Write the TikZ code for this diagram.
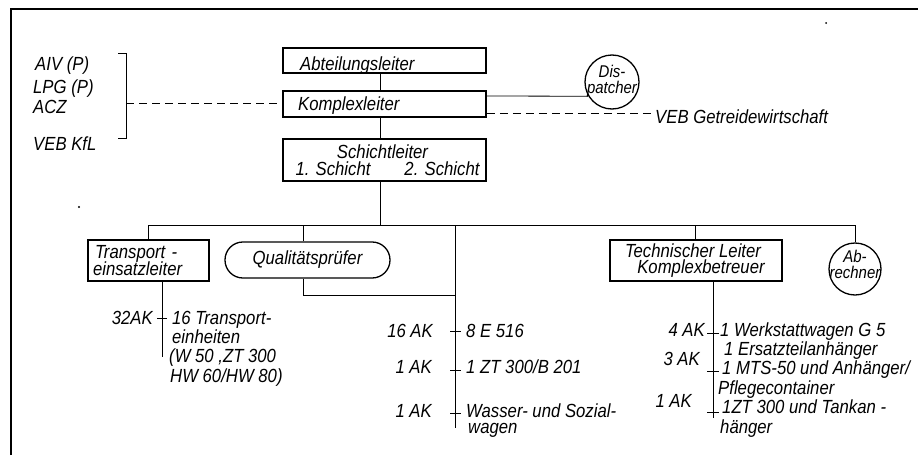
\documentclass[tikz,border=0pt]{standalone}
\usepackage{fontspec}
\newfontfamily\din[FakeStretch=0.88]{Liberation Sans}
\newcommand\tightls{\lineskiplimit=-50pt\relax\lineskip=0pt\relax}
\newcommand\dinmain{\din\itshape\fontsize{19}{17}\selectfont\tightls}
\newcommand\dinsmall{\din\itshape\fontsize{17}{16}\selectfont\tightls}
\newcommand\dinls[1]{\din\itshape\fontsize{19}{#1}\selectfont\tightls}
\usetikzlibrary{calc}
\begin{document}
\begin{tikzpicture}[x=1pt,y=-1pt,
  font=\dinmain,
  box/.style={draw, line width=1.6pt, inner sep=0pt},
  circ/.style={draw, circle, line width=1.3pt, inner sep=0pt},
  pill/.style={draw, line width=1.3pt, rounded corners=17.9pt, inner sep=0pt},
  txt/.style={inner sep=0pt},
  lbl/.style={txt, anchor=base west},
  lbr/.style={txt, anchor=base east},
  lbc/.style={txt, anchor=base},
  conn/.style={line width=0.8pt},
  dashline/.style={line width=0.8pt, dash pattern=on 8pt off 5pt},
  frame/.style={line width=1.2pt},
  small/.style={font=\dinsmall}]
\useasboundingbox (0,0) rectangle (918,455);

% frame
\draw[frame] (11,455) -- (11,9) -- (918,9);
\fill (826,23) circle (1pt);
\fill (79,207) circle (1.2pt);

% left group
\node[lbl] (aiv) at (35,70) {AIV (P)};
\node[lbl] (lpg) at (33,93) {LPG (P)};
\node[lbl] (acz) at (33,113) {ACZ};
\node[lbl] (kfl) at (33,150) {VEB KfL};
\draw[conn] (118,53) -- (126,53) -- (126,138) -- (118,138);
\coordinate (brM) at (126,103);

% top boxes
\coordinate (spine) at (380,0);
\node[box, minimum width=203, minimum height=25] (abt) at (384.5,60.5) {};
\node[box, minimum width=203, minimum height=26] (komplex) at (384.5,104) {};
\node[box, minimum width=203, minimum height=42, align=center] (schicht) at (384.5,160)
  {\hspace*{-4pt}Schichtleiter\\\hspace*{6pt}1. Schicht\hspace{34pt}2. Schicht};
\node[lbl] (abtT) at (300,70) {Abteilungsleiter};
\node[lbl] (komT) at (298,110) {Komplexleiter};
\draw[conn] (abt.south -| spine) -- (komplex.north -| spine);
\draw[conn] (komplex.south -| spine) -- (schicht.north -| spine);
\draw[dashline] (brM) -- (komplex.west |- brM);

% dispatcher
\node[circ, minimum size=54] (disp) at (612,82) {};
\node[txt, small, align=center, anchor=base] (dispT) at (612,93) {Dis-\\patcher};
\draw[conn] (komplex.east |- 0,96) -- (disp.211);
\node[lbl] (getr) at (655,123) {VEB Getreidewirtschaft};
\draw[dashline] (komplex.east |- 0,113) -- (getr.west |- 0,113);

% bus
\coordinate (busL) at (148,225);
\coordinate (busR) at (855,225);
\draw[conn] (busL) -- (busR);
\draw[conn] (schicht.south -| spine) -- (spine |- busL);

% Transporteinsatzleiter
\node[box, minimum width=119, minimum height=41, text width=111, inner xsep=5pt, align=left] (trans) at (148.5,260.5)
  {\hspace*{2pt}Transport -\\einsatzleiter};
\draw[conn] (busL) -- (busL |- trans.north);
\coordinate (tv) at (162,357);
\draw[conn] (trans.south -| tv) -- (tv);
\draw[conn] (157,318) -- (167,318);
\node[lbr] (ak32) at (153,324) {32AK};
\node[lbl, align=left, font=\dinls{19.3}] (tr) at (172,382)
  {16 Transport-\\einheiten\\\hspace*{-3pt}(W 50 ,ZT 300\\\hspace*{-2pt}HW 60/HW 80)};

% Qualitaetspruefer
\node[pill, minimum width=165, minimum height=36] (qual) at (307.5,260) {Qualitätsprüfer};
\coordinate (qx) at (303,225);
\coordinate (qc) at (303,295);
\coordinate (mv) at (455,225);
\coordinate (mvEnd) at (455,428);
\draw[conn] (qx) -- (qx |- qual.north);
\draw[conn] (qx |- qual.south) -- (qc) -- (mvEnd |- qc);
\draw[conn] (mv) -- (mvEnd);
\draw[conn] (450,331) -- (461,331);
\draw[conn] (450,370) -- (461,370);
\draw[conn] (450,413) -- (461,413);
\node[lbr] (ak16) at (433,337) {16 AK};
\node[lbr] (ak1a) at (432,373) {1 AK};
\node[lbr] (ak1b) at (432,417) {1 AK};
\node[lbl] (e516) at (466,337) {8 E 516};
\node[lbl] (zt) at (466,373) {1 ZT 300/B 201};
\node[lbl, align=left, font=\dinls{16}] (wass) at (466,433)
  {Wasser- und Sozial-\\\hspace*{2pt}wagen};

% Technischer Leiter
\node[box, minimum width=172, minimum height=41, align=center, font=\dinls{16}] (tech) at (696,260.5)
  {Technischer Leiter\hspace*{6pt}\\\hspace*{10pt}Komplexbetreuer};
\coordinate (tx) at (695,225);
\draw[conn] (tx) -- (tx |- tech.north);
\coordinate (tv2) at (713,418);
\draw[conn] (tech.south -| tv2) -- (tv2);
\draw[conn] (707,333) -- (719,333);
\draw[conn] (707,371) -- (719,371);
\draw[conn] (707,412) -- (719,412);
\node[lbr] (ak4) at (705,336) {4 AK};
\node[lbr] (ak3) at (700,365) {3 AK};
\node[lbr] (ak1c) at (692,407) {1 AK};
\node[lbl, align=left, font=\dinls{19.4}] (wlist) at (720,433)
  {1 Werkstattwagen G 5\\
   \hspace*{4pt}1 Ersatzteilanhänger\\
   \hspace*{2pt}1 MTS-50 und Anhänger/\\
   \hspace*{-2pt}Pflegecontainer\\
   \hspace*{2pt}1ZT 300 und Tankan -\\
   hänger};

% Abrechner
\node[circ, minimum size=52] (abr) at (855,269) {};
\node[txt, small, align=center, anchor=base] (abrT) at (855,278) {Ab-\\rechner};
\draw[conn] (busR) -- (abr.north);
\end{tikzpicture}
\end{document}
